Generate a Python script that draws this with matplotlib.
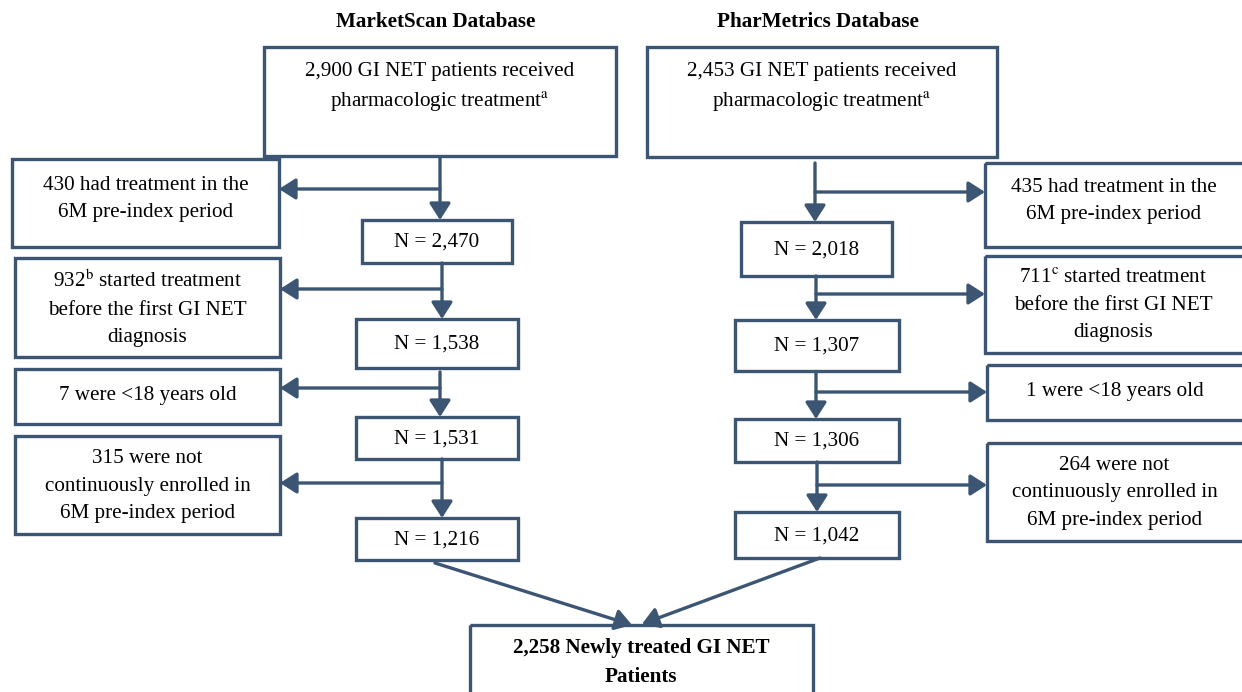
import matplotlib.pyplot as plt
from matplotlib.patches import Rectangle, FancyArrowPatch

plt.rcParams['font.family'] = ['Liberation Serif', 'DejaVu Serif']
plt.rcParams['mathtext.fontset'] = 'stix'

# flow data
databases = ['MarketScan Database', 'PharMetrics Database']
start_counts = ['2,900', '2,453']
ms_remaining = ['2,470', '1,538', '1,531', '1,216']
pm_remaining = ['2,018', '1,307', '1,306', '1,042']
ms_excluded = ['430 had treatment in the\n6M pre-index period',
               '932$^{\\rm b}$ started treatment\nbefore the first GI NET\ndiagnosis',
               '7 were <18 years old',
               '315 were not\ncontinuously enrolled in\n6M pre-index period']
pm_excluded = ['435 had treatment in the\n6M pre-index period',
               '711$^{\\rm c}$ started treatment\nbefore the first GI NET\ndiagnosis',
               '1 were <18 years old',
               '264 were not\ncontinuously enrolled in\n6M pre-index period']
total = '2,258'

# layout (pixels, y down)
col = '#3b5573'
lw = 2.4
fs = 15.2
ls = 1.6

ms_top = (264, 616, 47, 156)
pm_top = (647, 997, 47, 157)
ms_nbox = [(362, 512, 220, 263), (356, 518, 319, 368), (356, 518, 417, 459), (356, 518, 518, 560)]
pm_nbox = [(741, 892, 222, 276), (735, 899, 320, 371), (735, 899, 419, 462), (735, 899, 512, 558)]
ms_xbox = [(12, 279, 159, 247), (15, 280, 258, 357), (15, 280, 369, 424), (15, 280, 436, 534)]
pm_xbox = [(985, 1262, 163, 247), (985, 1262, 256, 353), (987, 1262, 365, 420), (987, 1262, 443, 541)]
ms_trunk = [440, 442, 440, 442]
pm_trunk = [815, 816, 816, 817]
ms_arrow_y = [189, 289, 388, 483]
pm_arrow_y = [192, 294, 392, 485]
ms_start_y = [158, 263, 372, 459]
pm_start_y = [163, 276, 373, 462]
final_box = (470, 813, 625, 710)

fig = plt.figure(figsize=(12.42, 6.92), dpi=100)
ax = fig.add_axes([0, 0, 1, 1])
ax.set_xlim(0, 1242)
ax.set_ylim(692, 0)
ax.axis('off')


def box(b):
    x0, x1, y0, y1 = b
    ax.add_patch(Rectangle((x0, y0), x1 - x0, y1 - y0, fill=False,
                           edgecolor=col, linewidth=lw, joinstyle='miter'))


def arrow(p0, p1):
    ax.add_patch(FancyArrowPatch(p0, p1, arrowstyle='-|>,head_length=0.5,head_width=0.32',
                                 mutation_scale=20, shrinkA=0, shrinkB=0,
                                 color=col, linewidth=lw))


def label(x0, x1, y0, y1, s, dy=0):
    ax.text((x0 + x1) / 2, (y0 + y1) / 2 + dy, s,
            ha='center', va='center', fontsize=fs, linespacing=ls)


# titles
ax.text(436, 22, databases[0], ha='center', va='center', fontsize=fs, fontweight='bold')
ax.text(818, 22, databases[1], ha='center', va='center', fontsize=fs, fontweight='bold')

for top, cnt in [(ms_top, start_counts[0]), (pm_top, start_counts[1])]:
    box(top)
    ax.text((top[0] + top[1]) / 2, 88, cnt + ' GI NET patients received\npharmacologic treatment$^{\\rm a}$',
            ha='center', va='center', fontsize=fs, linespacing=ls)

for side in range(2):
    nb = [ms_nbox, pm_nbox][side]
    xb = [ms_xbox, pm_xbox][side]
    trunk = [ms_trunk, pm_trunk][side]
    ay = [ms_arrow_y, pm_arrow_y][side]
    sy = [ms_start_y, pm_start_y][side]
    rem = [ms_remaining, pm_remaining][side]
    exc = [ms_excluded, pm_excluded][side]
    for i in range(4):
        box(nb[i])
        label(nb[i][0], nb[i][1], nb[i][2], nb[i][3], 'N = ' + rem[i], dy=1)
        box(xb[i])
        shift = -4 if exc[i].count('\n') == 1 else 1
        if exc[i].count('\n') == 0:
            shift = -1
        right = xb[i][1] if side == 0 else 1242
        label(xb[i][0], right, xb[i][2], xb[i][3], exc[i], dy=shift)
        arrow((trunk[i], sy[i]), (trunk[i], nb[i][2]))
        edge = xb[i][1] if side == 0 else xb[i][0]
        arrow((trunk[i], ay[i]), (edge, ay[i]))

# merge into final box
arrow((435, 563), (632, 625))
arrow((820, 558), (642, 624))
box(final_box)
ax.text(641, 663, total + ' Newly treated GI NET\nPatients', ha='center', va='center',
        fontsize=fs, fontweight='bold', linespacing=ls)

fig.savefig('out.png', dpi=100)
